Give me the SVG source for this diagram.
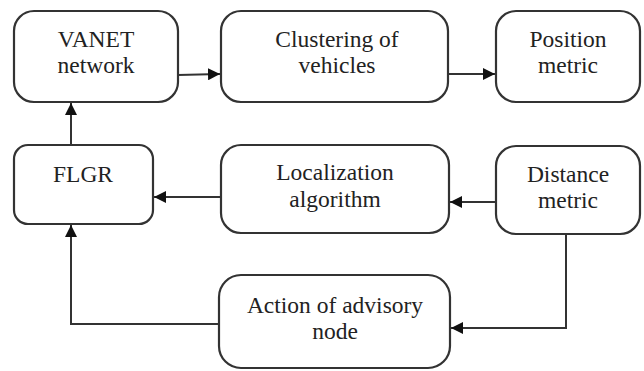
<svg xmlns="http://www.w3.org/2000/svg" width="644" height="371" viewBox="0 0 644 371">
<defs>
<marker id="ah" viewBox="0 0 12 12" refX="12" refY="6" markerWidth="12" markerHeight="12" markerUnits="userSpaceOnUse" orient="auto">
<path d="M0,0 L12,6 L0,12 Z" fill="#111"/>
</marker>
</defs>
<style>
.box{fill:#fff;stroke:#333;stroke-width:2.2}
.t{font-size:23.5px;fill:#222;text-anchor:middle}
.c{fill:none;stroke:#333;stroke-width:2;marker-end:url(#ah)}
</style>
<rect width="644" height="371" fill="#fff"/>
<g font-family="Liberation Serif, DejaVu Serif, serif">
<g id="vanet"><rect class="box" x="14" y="11" width="164" height="91" rx="20"/><text class="t" x="96" y="47">VANET</text><text class="t" x="96" y="73">network</text></g>
<g id="clustering"><rect class="box" x="221" y="11" width="227" height="91" rx="20"/><text class="t" x="337" y="47">Clustering of</text><text class="t" x="337" y="73">vehicles</text></g>
<g id="position"><rect class="box" x="496" y="11" width="144" height="91" rx="20"/><text class="t" x="568" y="47">Position</text><text class="t" x="568" y="73">metric</text></g>
<g id="flgr"><rect class="box" x="14" y="145" width="139" height="79" rx="14"/><text class="t" x="83" y="182">FLGR</text></g>
<g id="localization"><rect class="box" x="221" y="145" width="228" height="88" rx="20"/><text class="t" x="335" y="180">Localization</text><text class="t" x="335" y="207">algorithm</text></g>
<g id="distance"><rect class="box" x="496" y="146" width="144" height="88" rx="20"/><text class="t" x="568" y="182">Distance</text><text class="t" x="568" y="208">metric</text></g>
<g id="action"><rect class="box" x="219" y="275" width="231" height="93" rx="22"/><text class="t" x="335" y="313">Action of advisory</text><text class="t" x="335" y="339">node</text></g>
</g>
<g id="connectors">
<path class="c" d="M178,75 L220,74"/>
<path class="c" d="M448,74 L495,74"/>
<path class="c" d="M71,145 L71,103"/>
<path class="c" d="M221,197 L154,197"/>
<path class="c" d="M496,202 L450,202"/>
<path class="c" d="M566,234 L566,328 L451,328"/>
<path class="c" d="M219,324 L71,324 L71,225"/>
</g>
</svg>
